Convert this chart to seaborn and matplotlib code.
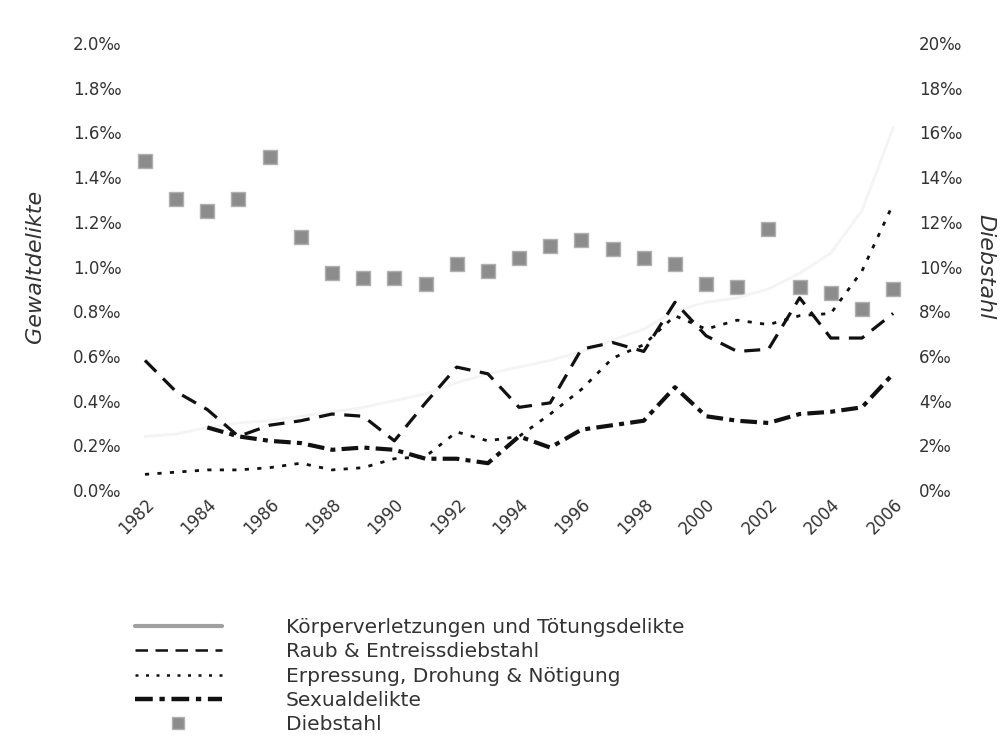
import numpy as np
import pandas as pd
import seaborn as sns
import matplotlib
matplotlib.use("Agg")
import matplotlib.pyplot as plt
from matplotlib.lines import Line2D

years = list(range(1982, 2007))

# Gewaltdelikte, Promille (linke Achse)
koerperverletzung = [0.24, 0.25, 0.28, 0.30, 0.31, 0.33, 0.35, 0.37, 0.40, 0.43, 0.48, 0.52, 0.55,
                     0.58, 0.62, 0.67, 0.72, 0.80, 0.84, 0.86, 0.90, 0.97, 1.06, 1.25, 1.62]
raub = [0.58, 0.44, 0.36, 0.24, 0.29, 0.31, 0.34, 0.33, 0.22, 0.39, 0.55, 0.52, 0.37,
        0.39, 0.63, 0.66, 0.62, 0.84, 0.69, 0.62, 0.63, 0.86, 0.68, 0.68, 0.79]
erpressung = [0.07, 0.08, 0.09, 0.09, 0.10, 0.12, 0.09, 0.10, 0.14, 0.15, 0.26, 0.22, 0.24,
              0.34, 0.45, 0.59, 0.65, 0.78, 0.72, 0.76, 0.74, 0.78, 0.79, 0.98, 1.28]
sexual = [np.nan, np.nan, 0.28, 0.24, 0.22, 0.21, 0.18, 0.19, 0.18, 0.14, 0.14, 0.12, 0.24,
          0.19, 0.27, 0.29, 0.31, 0.46, 0.33, 0.31, 0.30, 0.34, 0.35, 0.37, 0.52]

# Diebstahl, Promille (rechte Achse)
diebstahl = [14.7, 13.0, 12.5, 13.0, 14.9, 11.3, 9.7, 9.5, 9.5, 9.2, 10.1, 9.8, 10.4,
             10.9, 11.2, 10.8, 10.4, 10.1, 9.2, 9.1, 11.7, 9.1, 8.8, 8.1, 9.0]

left_ticks = [0.0, 0.2, 0.4, 0.6, 0.8, 1.0, 1.2, 1.4, 1.6, 1.8, 2.0]
right_ticks = [0, 2, 4, 6, 8, 10, 12, 14, 16, 18, 20]
year_ticks = list(range(1982, 2007, 2))

df = pd.DataFrame({"Jahr": years, "Koerper": koerperverletzung, "Raub": raub,
                   "Erpressung": erpressung, "Sexual": sexual, "Diebstahl": diebstahl})

sns.set_theme(style="white")
plt.rcParams["font.family"] = ["DejaVu Sans"]
txt = "#333333"

fig = plt.figure(figsize=(10.03, 7.42), dpi=100)
ax = fig.add_axes([0.1296, 0.3396, 0.9023 - 0.1296, 0.942 - 0.3396])
ax2 = ax.twinx()

# die graue Linie ist im Scan kaum zu sehen
sns.lineplot(data=df, x="Jahr", y="Koerper", ax=ax, color="#f4f4f4", lw=2)
sns.lineplot(data=df, x="Jahr", y="Raub", ax=ax, color="#111111", lw=2.3, linestyle=(0, (5, 3)))
sns.lineplot(data=df, x="Jahr", y="Erpressung", ax=ax, color="#111111", lw=2, linestyle=(0, (1.5, 3)))
sns.lineplot(data=df, x="Jahr", y="Sexual", ax=ax, color="#111111", lw=3,
             linestyle=(0, (4, 1.5, 1.2, 1.5)))
sns.scatterplot(data=df, x="Jahr", y="Diebstahl", ax=ax2, marker="s", s=110,
                color="#8c8c8c", edgecolor="#b0b0b0", linewidth=1, zorder=3)

ax.set_xlim(1981.52, 2006.38)
ax.set_ylim(0, 2.0)
ax2.set_ylim(0, 20)

ax.set_yticks(left_ticks)
ax.set_yticklabels([f"{v:.1f}‰" for v in left_ticks])
ax2.set_yticks(right_ticks)
ax2.set_yticklabels([f"{v}‰" for v in right_ticks])
ax.set_xticks(year_ticks)
ax.set_xticklabels([str(y) for y in year_ticks], rotation=45, ha="right", rotation_mode="anchor")

for a in (ax, ax2):
    for s in a.spines.values():
        s.set_visible(False)
    a.tick_params(length=0, labelsize=12, colors=txt)
    a.set_xlabel("")
ax.tick_params(axis="y", pad=6)
ax.tick_params(axis="x", pad=4)
ax2.tick_params(axis="y", pad=10)

ax.set_ylabel("Gewaltdelikte", fontsize=16, style="italic", color=txt, labelpad=20)
ax2.set_ylabel("Diebstahl", fontsize=16, style="italic", color=txt, rotation=270, labelpad=24)
ax.set_zorder(ax2.get_zorder() + 1)
ax.patch.set_visible(False)

handles = [
    Line2D([], [], color="#a0a0a0", lw=3),
    Line2D([], [], color="#111111", lw=1.8, linestyle=(0, (5, 3))),
    Line2D([], [], color="#111111", lw=1.8, linestyle=(0, (1.2, 3))),
    Line2D([], [], color="#111111", lw=3.2, linestyle=(0, (4, 1.5, 1.2, 1.5))),
    Line2D([], [], color="#8c8c8c", marker="s", markersize=8, linestyle="none",
           markeredgecolor="#b0b0b0"),
]
labels = ["Körperverletzungen und Tötungsdelikte", "Raub & Entreissdiebstahl",
          "Erpressung, Drohung & Nötigung", "Sexualdelikte", "Diebstahl"]
fig.legend(handles, labels, loc="upper left", bbox_to_anchor=(0.1346, 0.167), frameon=False,
           fontsize=14.5, handlelength=4.3, handletextpad=3.2, labelspacing=0.26,
           borderpad=0, borderaxespad=0, labelcolor=txt)

fig.savefig("out.png", dpi=100)
